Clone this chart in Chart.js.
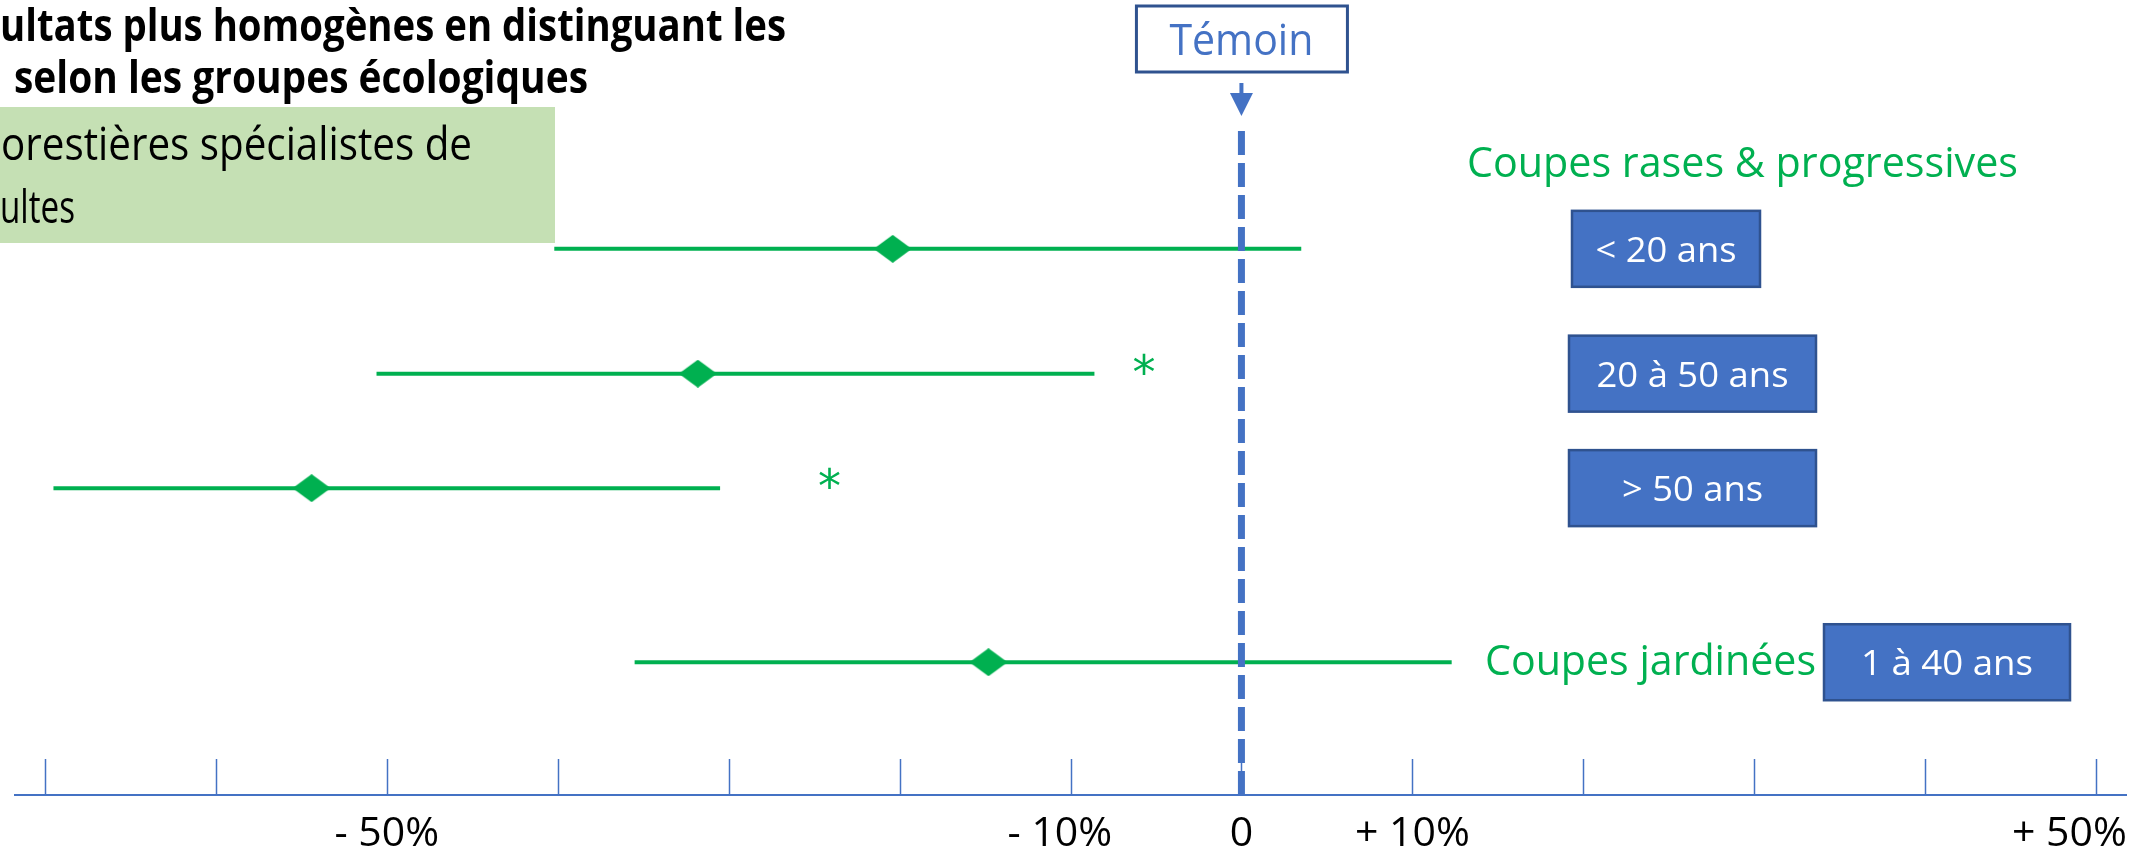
<!DOCTYPE html>
<html>
<head>
<meta charset="utf-8">
<script src="https://cdn.jsdelivr.net/npm/chart.js@4.4.1/dist/chart.umd.min.js"></script>
<style>
  body { margin: 0; background: #fff; }
  #wrap { width: 2149px; height: 858px; position: relative; }
</style>
</head>
<body>
<div id="wrap"><canvas id="myChart"></canvas></div>
<script>
// data (% change vs. Témoin)
const groups = ['< 20 ans', '20 à 50 ans', '> 50 ans', '1 à 40 ans'];
const lowValues = [-40.2, -50.6, -69.5, -35.5];
const highValues = [3.5, -8.6, -30.5, 12.3];
const meanValues = [-20.4, -31.8, -54.4, -14.8];
const starValues = [null, -5.7, -24.1, null];
const rowLevels = [6.87, 5.3, 3.86, 1.67];
const tickValues = [-70, -60, -50, -40, -30, -20, -10, 0, 10, 20, 30, 40, 50];
// trailing spaces nudge the last labels left like in the slide
const tickLabels = ['', '', '- 50%', '', '', '', '- 10%  ', '0', '+ 10%', '', '', '', '+ 50%     '];

const green = '#00B050';
const blue = '#4472C4';
const darkBlue = '#2F528F';

// diamond marker, a bit wider than tall
const diamond = document.createElement('canvas');
diamond.width = 38;
diamond.height = 28;
const dctx = diamond.getContext('2d');
dctx.fillStyle = green;
dctx.beginPath();
dctx.moveTo(19, 0);
dctx.lineTo(38, 14);
dctx.lineTo(19, 28);
dctx.lineTo(0, 14);
dctx.closePath();
dctx.fill();

// draws text squeezed/stretched to a given width
function fitText(ctx, text, x, y, width, align) {
  const k = width / ctx.measureText(text).width;
  ctx.save();
  ctx.translate(x, y);
  ctx.scale(k, 1);
  ctx.textAlign = align || 'left';
  ctx.textBaseline = 'alphabetic';
  ctx.fillText(text, 0, 0);
  ctx.restore();
}

const boxLeft = [1572, 1569, 1569, 1824];
const boxWidth = [188, 247, 247, 246];
const boxTextWidth = [141, 192, 141, 172];

const annotations = {
  id: 'annotations',
  beforeDatasetsDraw(chart) {
    const ctx = chart.ctx;
    const xs = chart.scales.x;
    const area = chart.chartArea;
    ctx.save();
    // green header box
    ctx.fillStyle = '#C5E0B4';
    ctx.fillRect(0, 107, 555, 136);
    // upward tick marks
    ctx.strokeStyle = blue;
    ctx.lineWidth = 1.5;
    xs.ticks.forEach(t => {
      const px = Math.round(xs.getPixelForValue(t.value)) + 0.5;
      ctx.beginPath();
      ctx.moveTo(px, area.bottom);
      ctx.lineTo(px, area.bottom - 36);
      ctx.stroke();
    });
    ctx.restore();
  },
  afterDraw(chart) {
    const ctx = chart.ctx;
    const xs = chart.scales.x;
    const ys = chart.scales.y;
    const area = chart.chartArea;
    const x0 = xs.getPixelForValue(0);
    ctx.save();

    // title
    ctx.fillStyle = '#000';
    ctx.font = "bold 45px 'Open Sans'";
    fitText(ctx, 'ultats plus homogènes en distinguant les', 0, 41, 786);
    fitText(ctx, 'selon les groupes écologiques', 14, 93, 574);
    ctx.font = "45px 'Open Sans'";
    fitText(ctx, 'orestières spécialistes de', 1, 160, 471);
    fitText(ctx, 'ultes', 0, 223, 75);

    // Témoin marker
    ctx.strokeStyle = darkBlue;
    ctx.lineWidth = 3;
    ctx.fillStyle = '#fff';
    ctx.fillRect(x0 - 105, 6, 211, 66);
    ctx.strokeRect(x0 - 105, 6, 211, 66);
    ctx.fillStyle = blue;
    ctx.font = "43px 'Open Sans'";
    fitText(ctx, 'Témoin', x0, 55, 144, 'center');
    ctx.fillRect(x0 - 2, 83, 4, 12);
    ctx.beginPath();
    ctx.moveTo(x0 - 11.5, 93);
    ctx.lineTo(x0 + 11.5, 93);
    ctx.lineTo(x0, 116);
    ctx.closePath();
    ctx.fill();

    ctx.strokeStyle = blue;
    ctx.lineWidth = 7;
    ctx.setLineDash([24, 8]);
    ctx.beginPath();
    ctx.moveTo(x0, 131);
    ctx.lineTo(x0, area.bottom);
    ctx.stroke();
    ctx.setLineDash([]);

    // significance stars
    ctx.fillStyle = green;
    ctx.font = "46px 'DejaVu Sans'";
    ctx.textAlign = 'center';
    starValues.forEach((v, i) => {
      if (v === null) return;
      ctx.fillText('*', xs.getPixelForValue(v), ys.getPixelForValue(rowLevels[i]) + 14);
    });

    // group headings
    ctx.font = "42px 'Open Sans'";
    fitText(ctx, 'Coupes rases & progressives', 1467, 177, 551);
    fitText(ctx, 'Coupes jardinées', 1485, 675, 331);

    // age class boxes
    groups.forEach((g, i) => {
      const cy = ys.getPixelForValue(rowLevels[i]);
      ctx.fillStyle = blue;
      ctx.fillRect(boxLeft[i], cy - 38, boxWidth[i], 76);
      ctx.strokeStyle = darkBlue;
      ctx.lineWidth = 2.5;
      ctx.strokeRect(boxLeft[i], cy - 38, boxWidth[i], 76);
      ctx.fillStyle = '#fff';
      ctx.font = "35px 'Open Sans'";
      fitText(ctx, g, boxLeft[i] + boxWidth[i] / 2, cy + 13, boxTextWidth[i], 'center');
    });
    ctx.restore();
  }
};

const datasets = groups.map((g, i) => ({
  label: g,
  data: [{ x: lowValues[i], y: rowLevels[i] }, { x: highValues[i], y: rowLevels[i] }],
  showLine: true,
  borderColor: green,
  borderWidth: 4,
  pointRadius: 0
}));
datasets.push({
  label: 'moyenne',
  data: groups.map((g, i) => ({ x: meanValues[i], y: rowLevels[i] })),
  pointStyle: diamond,
  pointRadius: 19,
  backgroundColor: green
});

const ctx = document.getElementById('myChart').getContext('2d');
let myChart = new Chart(ctx, {
  type: 'scatter',
  data: { datasets: datasets },
  options: {
    responsive: true,
    maintainAspectRatio: false,
    animation: false,
    layout: { autoPadding: false, padding: { left: 15, right: 23, top: 0, bottom: 0 } },
    plugins: { legend: { display: false }, tooltip: { enabled: false } },
    scales: {
      x: {
        type: 'linear',
        min: -71.75,
        max: 51.75,
        afterBuildTicks: s => { s.ticks = tickValues.map(v => ({ value: v })); },
        // keep the axis where it is in the picture, labels may hang past the edges
        afterFit: s => { s.height = 63; s.paddingLeft = 0; s.paddingRight = 0; },
        grid: { display: true, drawOnChartArea: false, drawTicks: false },
        border: { display: true, color: blue, width: 2 },
        ticks: {
          color: '#000',
          font: { family: 'Open Sans', size: 41 },
          padding: 15,
          maxRotation: 0,
          autoSkip: false,
          callback: (value, index) => tickLabels[index]
        }
      },
      y: { type: 'linear', display: false, min: 0, max: 10 }
    }
  },
  plugins: [annotations]
});
</script>
</body>
</html>
